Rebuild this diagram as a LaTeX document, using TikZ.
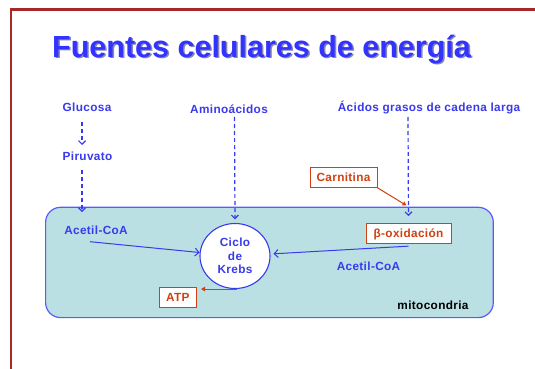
\documentclass[tikz,border=0pt]{standalone}
\usepackage{fontspec}
\setmainfont{Liberation Sans}
\newfontfamily\lab[LetterSpace=3]{Liberation Sans}
\usetikzlibrary{arrows.meta,shapes.geometric,calc}
\definecolor{tblue}{RGB}{51,51,255}
\definecolor{lblue}{RGB}{58,58,238}
\definecolor{ored}{RGB}{208,64,16}
\definecolor{teal0}{RGB}{186,224,227}
\definecolor{mborder}{RGB}{90,90,255}
\definecolor{framec}{RGB}{168,40,40}
\definecolor{shadowc}{RGB}{40,40,110}
\begin{document}
\begin{tikzpicture}[x=1pt,y=-1pt,
  lbl/.style={font=\lab\fontsize{11.8}{13.3}\selectfont\bfseries, text=lblue, inner sep=0pt},
  obox/.style={font=\lab\fontsize{11.8}{13.3}\selectfont\bfseries, text=ored, draw=ored, fill=white,
    line width=0.9pt, text height=9.5pt, text depth=1pt, inner xsep=0pt, inner ysep=4.6pt},
  dasharr/.style={draw=lblue, line width=1.2pt, dash pattern=on 4pt off 3pt,
    -{Straight Barb[length=3.5pt,width=7pt]}},
  solarr/.style={draw=lblue, line width=1pt, -{Straight Barb[length=4pt,width=8pt]}},
  redarr/.style={draw=ored, line width=1pt, -{Triangle[length=4pt,width=4.5pt]}},
]
\useasboundingbox (0,0) rectangle (535,369);
\fill[white] (0,0) rectangle (535,369);
% frame
\draw[framec, line width=2.6pt] (11,369) -- (11,9.5) -- (535,9.5);
% title
\node[anchor=base west, font=\fontsize{30.5}{36}\selectfont\bfseries, text=shadowc, opacity=0.55, inner sep=0pt] (titleshadow) at (53.5,58.5) {Fuentes celulares de energía};
\node[anchor=base west, font=\fontsize{30.5}{36}\selectfont\bfseries, text=tblue, inner sep=0pt] (title) at (52,57) {Fuentes celulares de energía};
% mitochondrion
\node[draw=mborder, fill=teal0, rounded corners=15pt, line width=1.2pt, minimum width=447.7pt, minimum height=110.3pt, anchor=north west, inner sep=0pt] (mito) at (45,206.7) {};
% labels
\node[lbl, anchor=base] (glu) at (87,111) {Glucosa};
\node[lbl, anchor=base] (pir) at (87.5,160) {Piruvato};
\node[lbl, anchor=base] (amino) at (229,113) {Aminoácidos};
\node[lbl, anchor=base] (acidos) at (429,111) {Ácidos grasos de cadena larga};
\node[lbl, anchor=base] (acl) at (96,234) {Acetil-CoA};
\node[lbl, anchor=base] (acr) at (368.5,270) {Acetil-CoA};
\node[lbl, text=black, anchor=base] (mitolbl) at (433,309.3) {mitocondria};
\node[lbl, ellipse, draw=lblue, fill=white, line width=1.1pt, minimum width=70pt, minimum height=65pt, inner sep=0pt, align=center] (krebs) at (235,256) {Ciclo\\de\\Krebs};
\node[obox, minimum width=67pt, anchor=base] (carn) at (343.5,181.7) {Carnitina};
\node[obox, minimum width=85pt, anchor=base] (box) at (408.5,237.7) {β-oxidación};
\node[obox, minimum width=37.5pt, anchor=base] (atp) at (177.8,301.7) {ATP};
\coordinate (cj) at (406.5,205.5);
% connectors
\draw[dasharr] ($(glu.base)+(-5,11)$) -- ($(pir.base)+(-5.5,-15)$);
\draw[dasharr] ($(pir.base)+(-5.5,10)$) -- ($(acl.base)+(-14,-22)$);
\draw[dasharr, shorten >=3.5pt] ($(amino.base)+(5.5,4)$) -- (krebs.north);
\draw[dasharr, shorten >=7pt] ($(acidos.base)+(-21,6)$) -- (box.north);
\draw[redarr] (carn.south east) -- (cj);
\draw[solarr] ($(acl.base)+(-6,7.7)$) -- (krebs);
\draw[solarr, shorten >=3pt] ($(box.south)+(0,2.4)$) -- (krebs);
\draw[redarr, shorten >=4pt] ([xshift=1.5pt]krebs.south) -- (krebs.south -| atp.east);
\end{tikzpicture}
\end{document}
